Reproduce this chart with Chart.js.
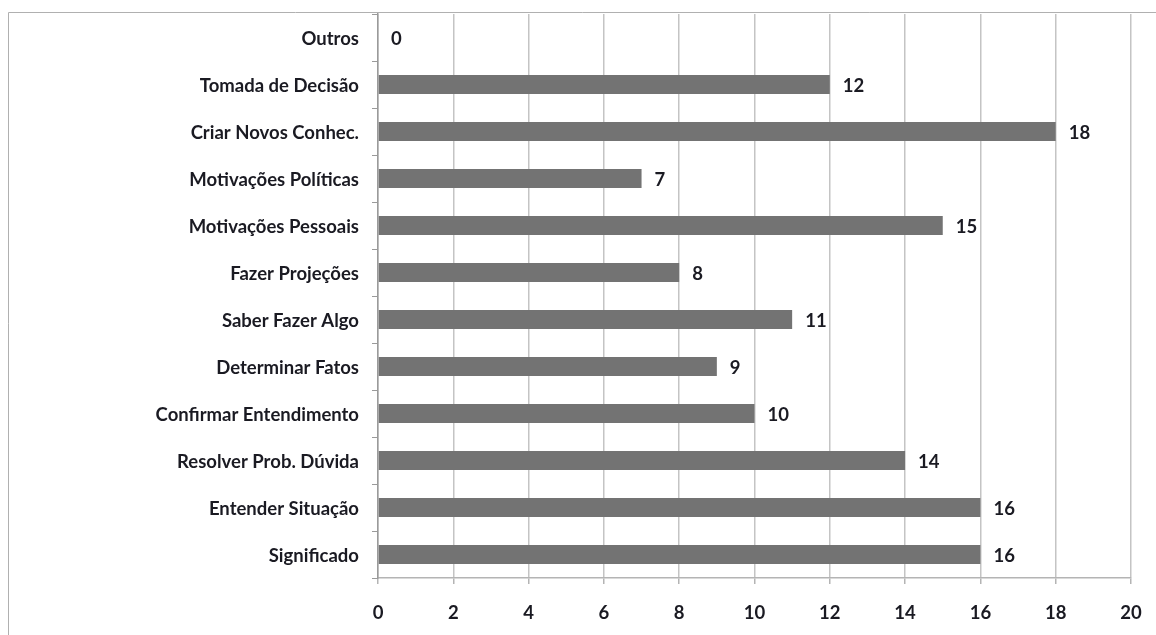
<!DOCTYPE html>
<html>
<head>
<meta charset="utf-8">
<script src="https://cdn.jsdelivr.net/npm/chart.js@4/dist/chart.umd.min.js"></script>
<style>
  html, body { margin: 0; padding: 0; background: #fff; }
  #wrap { width: 1156px; height: 635px; position: relative; }
</style>
</head>
<body>
<div id="wrap"><canvas id="c" width="1156" height="635"></canvas></div>
<script>
// Motivos de busca de informação (contagem de respostas)
const categories = [
  'Outros',
  'Tomada de Decisão',
  'Criar Novos Conhec.',
  'Motivações Políticas',
  'Motivações Pessoais',
  'Fazer Projeções',
  'Saber Fazer Algo',
  'Determinar Fatos',
  'Confirmar Entendimento',
  'Resolver Prob. Dúvida',
  'Entender Situação',
  'Significado'
];
const counts = [0, 12, 18, 7, 15, 8, 11, 9, 10, 14, 16, 16];
const xTicks = [0, 2, 4, 6, 8, 10, 12, 14, 16, 18, 20];

const FONT = 'Lato, "Open Sans", sans-serif';
const FONT_SIZE = 18.5;
const FONT_WEIGHT = 'bold';
const TEXT = '#1a1a22';

// Thin frame along the top and left edges of the sheet
const framePlugin = {
  id: 'frame',
  beforeDraw(chart) {
    const ctx = chart.ctx;
    ctx.save();
    ctx.strokeStyle = '#b0b0b0';
    ctx.lineWidth = 1;
    ctx.beginPath();
    ctx.moveTo(8.5, chart.height);
    ctx.lineTo(8.5, 12.5);
    ctx.lineTo(chart.width, 12.5);
    ctx.stroke();
    ctx.restore();
  }
};

// Value written just past the end of each bar
const valueLabels = {
  id: 'valueLabels',
  afterDatasetsDraw(chart) {
    const ctx = chart.ctx;
    const meta = chart.getDatasetMeta(0);
    ctx.save();
    ctx.font = FONT_WEIGHT + ' ' + FONT_SIZE + 'px ' + FONT;
    ctx.fillStyle = TEXT;
    ctx.textAlign = 'left';
    ctx.textBaseline = 'middle';
    meta.data.forEach((bar, i) => {
      ctx.fillText(String(counts[i]), bar.x + 13, bar.y + 2);
    });
    ctx.restore();
  }
};

new Chart(document.getElementById('c'), {
  type: 'bar',
  data: {
    labels: categories,
    datasets: [{
      data: counts,
      backgroundColor: '#737373',
      borderWidth: 0,
      barPercentage: 0.4,
      categoryPercentage: 1.0
    }]
  },
  options: {
    indexAxis: 'y',
    responsive: false,
    animation: false,
    devicePixelRatio: 1,
    layout: { padding: { top: 14, right: 25, left: 0, bottom: 0 } },
    plugins: {
      legend: { display: false },
      tooltip: { enabled: false }
    },
    scales: {
      x: {
        min: 0,
        max: 20,
        afterBuildTicks(scale) {
          scale.ticks = xTicks.map(v => ({ value: v }));
        },
        afterFit(scale) {
          scale.height = 57;
          scale.paddingLeft = 0;
          scale.paddingRight = 0;
        },
        grid: {
          color: '#c4c4c4',
          lineWidth: 1.5,
          drawTicks: true,
          tickLength: 6,
          tickColor: '#b4b4b4'
        },
        border: { color: '#b4b4b4', width: 1.5 },
        ticks: {
          padding: 18,
          color: TEXT,
          font: { family: FONT, size: FONT_SIZE, weight: FONT_WEIGHT },
          maxRotation: 0
        }
      },
      y: {
        afterFit(scale) {
          scale.width = 378;
          scale.paddingTop = 0;
          scale.paddingBottom = 0;
        },
        grid: {
          drawOnChartArea: false,
          drawTicks: true,
          tickLength: 6,
          tickColor: '#9a9a9a',
          offset: true
        },
        border: { color: '#9a9a9a', width: 1.5 },
        ticks: {
          padding: 13,
          labelOffset: 2,
          color: TEXT,
          font: { family: FONT, size: FONT_SIZE, weight: FONT_WEIGHT },
          autoSkip: false
        }
      }
    }
  },
  plugins: [framePlugin, valueLabels]
});
</script>
</body>
</html>
